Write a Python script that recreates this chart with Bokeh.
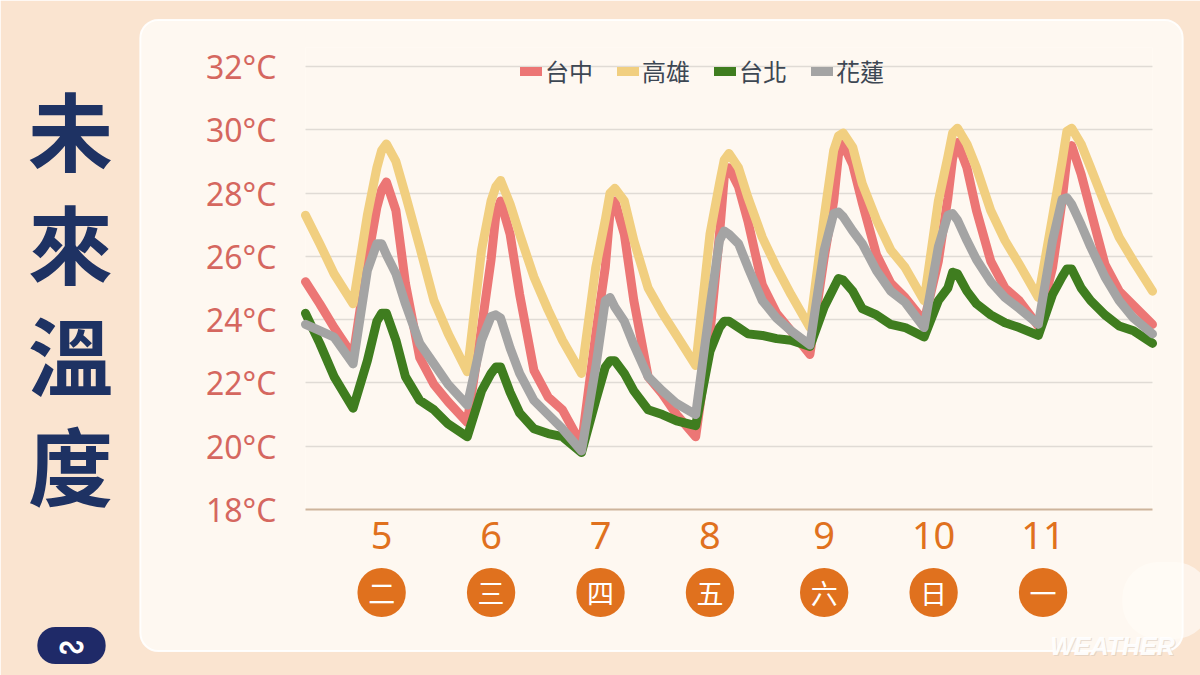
from bokeh.plotting import figure
from bokeh.models import (Range1d, FixedTicker, PrintfTickFormatter, Legend, LegendItem,
                          ColumnDataSource)
from bokeh.core.properties import value
from bokeh.embed import file_html
from bokeh.resources import INLINE

# ---------------- data (hours counted from day 5, 00:00) ----------------
hours = [-3, 0, 3, 7, 10, 12, 13, 14, 16, 18, 21,
         24, 27, 31, 34, 36, 37, 38, 40, 42, 45,
         48, 51, 55, 58, 60, 61, 62, 64, 66, 69,
         72, 75, 79, 82, 84, 85, 86, 88, 90, 93,
         96, 99, 103, 106, 108, 109, 110, 112, 114, 117,
         120, 123, 127, 130, 132, 133, 134, 136, 138, 141,
         144, 147, 151, 154, 156, 157, 158, 160, 162, 165,
         168, 171, 175]

taichung = [25.2, 24.5, 23.75, 22.85, 25.85, 27.55, 28.1, 28.35, 27.45, 25.15, 22.8,
            21.95, 21.4, 20.75, 23.75, 25.9, 27.3, 27.75, 26.7, 24.8, 22.4,
            21.55, 21.15, 20.05, 23.55, 25.65, 27.4, 27.75, 26.7, 24.6, 22.2,
            21.65, 21.0, 20.3, 23.55, 26.7, 28.5, 28.8, 28.2, 27.1, 25.1,
            24.2, 23.65, 22.9, 25.95, 27.75, 29.2, 29.55, 28.9, 27.7, 26.05,
            25.15, 24.7, 23.95, 25.85, 27.85, 29.1, 29.6, 28.8, 27.45, 25.85,
            25.0, 24.6, 23.8, 25.65, 27.75, 29.1, 29.5, 28.6, 27.45, 25.75,
            24.9, 24.45, 23.85]

kaohsiung = [27.3, 26.4, 25.45, 24.5, 27.3, 28.8, 29.35, 29.55, 29.0, 27.95, 26.3,
             24.6, 23.55, 22.35, 26.2, 27.75, 28.2, 28.4, 27.65, 26.7, 25.35,
             24.3, 23.35, 22.3, 25.65, 27.15, 28.0, 28.15, 27.75, 26.5, 25.0,
             24.2, 23.5, 22.55, 26.7, 28.3, 29.05, 29.25, 28.8, 27.85, 26.6,
             25.65, 24.8, 23.75, 27.25, 29.35, 29.8, 29.9, 29.45, 28.3, 27.15,
             26.2, 25.65, 24.6, 27.75, 29.15, 29.9, 30.05, 29.55, 28.8, 27.45,
             26.5, 25.75, 24.7, 27.25, 29.0, 29.95, 30.05, 29.55, 28.8, 27.65,
             26.6, 25.85, 24.9]

taipei = [24.2, 23.25, 22.2, 21.2, 22.7, 23.95, 24.2, 24.2, 23.35, 22.2, 21.45,
          21.15, 20.7, 20.3, 21.75, 22.3, 22.5, 22.5, 21.7, 21.05, 20.55,
          20.4, 20.3, 19.8, 21.45, 22.5, 22.7, 22.7, 22.3, 21.75, 21.15,
          21.0, 20.8, 20.65, 23.0, 23.75, 23.95, 23.95, 23.75, 23.55, 23.5,
          23.4, 23.35, 23.15, 24.4, 25.0, 25.3, 25.25, 24.9, 24.35, 24.15,
          23.85, 23.75, 23.45, 24.6, 25.0, 25.5, 25.45, 24.9, 24.5, 24.15,
          23.9, 23.75, 23.5, 24.8, 25.35, 25.6, 25.6, 25.0, 24.6, 24.15,
          23.8, 23.65, 23.25]

hualien = [23.85, 23.65, 23.45, 22.6, 25.55, 26.4, 26.4, 26.05, 25.45, 24.5, 23.25,
           22.6, 21.95, 21.3, 23.35, 24.1, 24.15, 24.05, 23.1, 22.3, 21.45,
           21.0, 20.55, 19.85, 22.5, 24.6, 24.7, 24.4, 23.95, 23.2, 22.2,
           21.75, 21.35, 21.0, 24.4, 26.5, 26.8, 26.7, 26.4, 25.65, 24.6,
           24.05, 23.65, 23.2, 26.2, 27.35, 27.4, 27.25, 26.8, 26.4, 25.55,
           24.9, 24.55, 23.75, 26.3, 27.3, 27.35, 27.15, 26.5, 25.9, 25.2,
           24.7, 24.35, 23.85, 26.5, 27.8, 27.85, 27.65, 27.0, 26.3, 25.35,
           24.6, 24.05, 23.55]

series_names = ["台中", "高雄", "台北", "花蓮"]
day_labels = ["5", "6", "7", "8", "9", "10", "11"]
weekday_labels = ["二", "三", "四", "五", "六", "日", "一"]
y_ticks = [18, 20, 22, 24, 26, 28, 30, 32]
title_chars = ["未", "來", "溫", "度"]

# ---------------- layout / style ----------------
day_tick_hours = [13, 36, 59, 82, 106, 129, 152]
colors = ["#EC7675", "#F1CF80", "#3F7D1F", "#A4A4A4"]
FONT = "Noto Sans"
CJK = "Noto Sans CJK TC"
ORANGE = "#E0711E"
PEACH = "#FAE4D0"

W, H = 1200, 675
BL, BR, BT, BB = 305, 48, 47, 166
X0, X1 = -3, 175
Y0, Y1 = 18, 32.6


def dx(px):  # canvas pixel -> hour units (for decorations outside the frame)
    return X0 + (px - BL) * (X1 - X0) / (W - BL - BR)


def dy(py):  # canvas pixel -> temperature units
    return Y1 - (py - BT) * (Y1 - Y0) / (H - BT - BB)


p = figure(width=W, height=H, output_backend="svg", toolbar_location=None,
           x_range=Range1d(X0, X1), y_range=Range1d(Y0, Y1),
           min_border_left=BL, min_border_right=BR, min_border_top=BT,
           min_border_bottom=BB)
p.border_fill_color = PEACH
p.background_fill_color = PEACH
p.outline_line_color = None


def box(cx, cy, hw, hh, color, alpha, radius, line_color=None):
    src = ColumnDataSource(dict(x=[dx(cx)], y=[dy(cy)], t=[" "]))
    return p.text("x", "y", text="t", source=src, text_font_size="1px", text_alpha=0,
                  text_align="center", text_baseline="middle",
                  padding=(hw, hh), border_radius=radius,
                  background_fill_color=color, background_fill_alpha=alpha,
                  border_line_color=line_color, border_line_width=2, border_line_alpha=0.9,
                  level="guide")


# soft white cloud bottom-right, then the white rounded panel behind the chart
box(1166, 600, 44, 38, "#FFFFFF", 0.55, 36)
box(661, 335, 521, 315, "#FFFCF8", 0.82, 18, line_color="#FFFFFF")

# axes
for ax in (p.xaxis[0], p.yaxis[0]):
    ax.level = "overlay"
p.yaxis.ticker = FixedTicker(ticks=y_ticks)
p.yaxis.formatter = PrintfTickFormatter(format="%d°C")
p.yaxis.axis_line_color = None
p.yaxis.major_tick_line_color = None
p.yaxis.minor_tick_line_color = None
p.yaxis.major_label_standoff = 23
p.yaxis.major_label_text_font = FONT
p.yaxis.major_label_text_font_size = "32px"
p.yaxis.major_label_text_color = "#D5675F"

p.xaxis.ticker = FixedTicker(ticks=day_tick_hours)
p.xaxis.major_label_overrides = {h: d for h, d in zip(day_tick_hours, day_labels)}
p.xaxis.axis_line_color = "#CDB49C"
p.xaxis.axis_line_width = 2
p.xaxis.major_tick_line_color = None
p.xaxis.minor_tick_line_color = None
p.xaxis.major_label_standoff = 6
p.xaxis.major_label_text_font = FONT
p.xaxis.major_label_text_font_size = "38px"
p.xaxis.major_label_text_color = ORANGE

p.xgrid.grid_line_color = None
p.ygrid.ticker = FixedTicker(ticks=y_ticks)
p.ygrid.grid_line_color = "#E0DBD5"
p.ygrid.grid_line_width = 1.5
p.ygrid.level = "annotation"

# lines
src = ColumnDataSource(dict(h=hours, tc=taichung, kh=kaohsiung, tp=taipei, hl=hualien))
renderers = []
for key, col in zip(["tc", "kh", "tp", "hl"], colors):
    r = p.line("h", key, source=src, line_color=col, line_width=9,
               line_join="round", line_cap="round", level="overlay")
    renderers.append(r)

legend = Legend(items=[LegendItem(label=n, renderers=[r]) for n, r in zip(series_names, renderers)],
                orientation="horizontal", location=(215, 421),
                label_text_font=CJK, label_text_font_size="24px", label_text_color="#3D4753",
                glyph_width=22, glyph_height=24, label_standoff=3, spacing=24,
                padding=0, margin=0, background_fill_alpha=0, border_line_alpha=0)
p.add_layout(legend)

# weekday circles below the axis
cy_circ = dy(592)
circ = ColumnDataSource(dict(h=day_tick_hours, t=weekday_labels, y=[cy_circ] * 7,
                             blank=[" "] * 7))
p.text("h", "y", text="blank", source=circ, text_font_size="1px", text_alpha=0,
       text_align="center", text_baseline="middle", padding=24, border_radius=24,
       background_fill_color=ORANGE, level="overlay")
p.text("h", "y", text="t", source=circ, text_font=value(CJK), text_font_size="27px",
       text_color="white", text_align="center", text_baseline="middle", level="overlay")

# vertical title
tsrc = ColumnDataSource(dict(x=[dx(70)] * 4, y=[dy(v) for v in (127, 240, 352, 462)], t=title_chars))
p.text("x", "y", text="t", source=tsrc, text_font=value(CJK), text_font_style="bold",
       text_font_size="85px", text_color="#1E3263", text_align="center",
       text_baseline="middle", level="overlay")

# logo (navy ellipse with white swirl) and watermark
lsrc = ColumnDataSource(dict(x=[dx(71)], y=[dy(645)], blank=[" "], s=["∾"]))
p.text("x", "y", text="blank", source=lsrc, text_font_size="1px", text_alpha=0,
       text_align="center", text_baseline="middle", padding=(34, 18), border_radius=18,
       background_fill_color="#1F2A68", level="overlay")
p.text("x", "y", text="s", source=lsrc, text_font=value("DejaVu Sans"), text_font_size="34px",
       text_font_style="bold", text_color="white", text_align="center",
       text_baseline="middle", level="overlay")
wsrc = ColumnDataSource(dict(x=[dx(1112)], y=[dy(645)], t=["WEATHER"]))
p.text("x", "y", text="t", source=wsrc, text_font=value("Liberation Sans"),
       text_font_style="bold italic", text_font_size="25px", text_color="#D8C6B8",
       text_alpha=0.55, text_align="center", text_baseline="middle",
       x_offset=1, y_offset=1, level="overlay")
p.text("x", "y", text="t", source=wsrc, text_font=value("Liberation Sans"),
       text_font_style="bold italic", text_font_size="25px", text_color="white",
       text_alpha=0.95, text_align="center", text_baseline="middle", level="overlay")

open("out.html", "w").write(file_html(p, INLINE, title="未來溫度"))
